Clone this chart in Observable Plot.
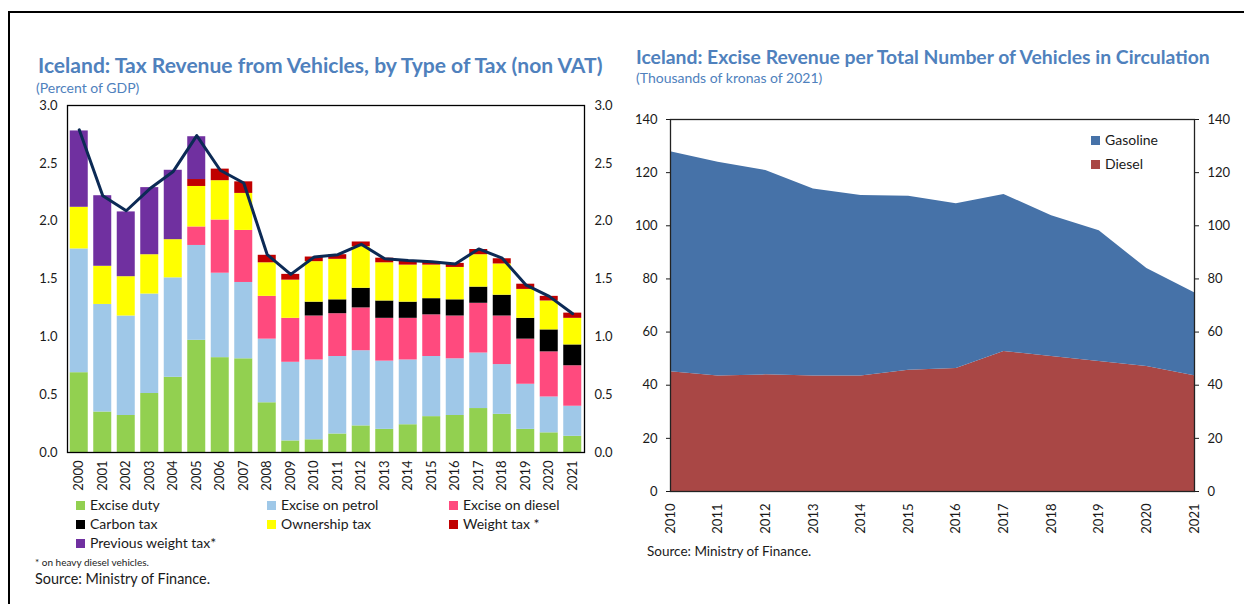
<!DOCTYPE html>
<html>
<head>
<meta charset="utf-8">
<script src="https://cdn.jsdelivr.net/npm/d3@7"></script>
<script src="https://cdn.jsdelivr.net/npm/@observablehq/plot@0.6"></script>
<style>
  html, body { margin: 0; padding: 0; background: #fff; }
  body { width: 1244px; height: 604px; position: relative; overflow: hidden; font-family: Lato, "Open Sans", sans-serif; color: #1a1a1a; }
  .abs { position: absolute; white-space: nowrap; }
  .title { font-weight: bold; color: #4f81bd; font-size: 18px; line-height: 1; transform: translateY(-50%); }
  .sub { color: #4f81bd; font-size: 14px; line-height: 1; transform: translateY(-50%); }
  .leg { font-size: 14px; line-height: 14px; }
  .sw { display: inline-block; width: 9px; height: 9px; margin-right: 5px; vertical-align: 0px; }
  #border { position: absolute; left: 8px; top: 11px; width: 1300px; height: 700px; border-top: 2px solid #000; border-left: 2px solid #000; }
</style>
</head>
<body>
<div id="border"></div>
<div id="t1" class="abs title" style="left:38px; top:65px;">Iceland: Tax Revenue from Vehicles, by Type of Tax (non VAT)</div>
<div class="abs sub" style="left:36px; top:88px;">(Percent of GDP)</div>
<div id="t2" class="abs title" style="left:636px; top:57px;">Iceland: Excise Revenue per Total Number of Vehicles in Circulation</div>
<div class="abs sub" style="left:636px; top:78px;">(Thousands of kronas of 2021)</div>
<div id="left" class="abs" style="left:0px; top:95px;"></div>
<div id="right" class="abs" style="left:620px; top:109px;"></div>
<div id="legend" class="abs" style="left:0; top:0;"></div>
<div class="abs" style="left:35px; top:556px; font-size:10px;">* on heavy diesel vehicles.</div>
<div class="abs" style="left:35px; top:570px; font-size:14.4px;">Source: Ministry of Finance.</div>
<div class="abs" style="left:647px; top:543px; font-size:13.5px;">Source: Ministry of Finance.</div>
<div class="abs leg" style="left:1091px; top:133px;"><span class="sw" style="background:#4672a8"></span>Gasoline</div>
<div class="abs leg" style="left:1091px; top:157px;"><span class="sw" style="background:#a94745"></span>Diesel</div>
<script>
// ---------- Left chart data (percent of GDP) ----------
const years = [2000,2001,2002,2003,2004,2005,2006,2007,2008,2009,2010,2011,2012,2013,2014,2015,2016,2017,2018,2019,2020,2021];
const seriesNames = ["Excise duty","Excise on petrol","Excise on diesel","Carbon tax","Ownership tax","Weight tax *","Previous weight tax*"];
const seriesColors = ["#92d050","#9fc8e8","#ff4a7e","#000000","#ffff00","#c00000","#7030a0"];
const exciseDuty    = [0.69,0.35,0.32,0.51,0.65,0.97,0.82,0.81,0.43,0.10,0.11,0.16,0.23,0.20,0.24,0.31,0.32,0.38,0.33,0.20,0.17,0.14];
const excisePetrol  = [1.07,0.93,0.86,0.86,0.86,0.82,0.73,0.66,0.55,0.68,0.69,0.67,0.65,0.59,0.56,0.52,0.49,0.48,0.43,0.39,0.31,0.26];
const exciseDiesel  = [0,0,0,0,0,0.16,0.46,0.45,0.37,0.38,0.38,0.37,0.37,0.37,0.36,0.36,0.37,0.43,0.42,0.39,0.39,0.35];
const carbonTax     = [0,0,0,0,0,0,0,0,0,0,0.12,0.12,0.17,0.15,0.14,0.14,0.14,0.14,0.18,0.18,0.19,0.18];
const ownershipTax  = [0.36,0.33,0.34,0.34,0.33,0.35,0.34,0.32,0.29,0.33,0.35,0.35,0.36,0.33,0.32,0.29,0.28,0.28,0.27,0.25,0.25,0.23];
const weightTax     = [0,0,0,0,0,0.06,0.10,0.10,0.065,0.05,0.04,0.04,0.04,0.04,0.035,0.03,0.035,0.045,0.045,0.045,0.04,0.045];
const prevWeightTax = [0.66,0.61,0.56,0.58,0.60,0.37,0,0,0,0,0,0,0,0,0,0,0,0,0,0,0,0];
const totalLine     = [2.79,2.22,2.09,2.28,2.43,2.74,2.44,2.33,1.71,1.54,1.69,1.71,1.80,1.675,1.66,1.65,1.63,1.76,1.68,1.45,1.35,1.20];
const leftTicks = [0,0.5,1.0,1.5,2.0,2.5,3.0];

// ---------- Right chart data (thousands of kronas of 2021) ----------
const years2 = [2010,2011,2012,2013,2014,2015,2016,2017,2018,2019,2020,2021];
const diesel   = [45.1,43.5,43.9,43.5,43.5,45.6,46.3,52.7,50.8,48.9,47.0,43.6];
const gasoline = [82.8,80.4,76.9,70.3,67.9,65.5,62.0,59.1,53.0,49.2,36.9,31.2];
const rightTicks = [0,20,40,60,80,100,120,140];

// fit titles to the reference widths
function fitWidth(id, target) {
  const el = document.getElementById(id);
  const w = el.getBoundingClientRect().width;
  const fs = parseFloat(getComputedStyle(el).fontSize);
  el.style.fontSize = (fs * target / w) + "px";
}
fitWidth("t1", 565);
fitWidth("t2", 574);

const allSeries = [exciseDuty, excisePetrol, exciseDiesel, carbonTax, ownershipTax, weightTax, prevWeightTax];
const barRows = [];
years.forEach((y, i) => {
  seriesNames.forEach((s, j) => barRows.push({year: String(y), series: s, value: allSeries[j][i]}));
});
const lineRows = years.map((y, i) => ({year: String(y), value: totalLine[i]}));

const left = Plot.plot({
  width: 620, height: 410,
  marginLeft: 67, marginRight: 36, marginTop: 10, marginBottom: 53,
  style: {fontFamily: "Lato, 'Open Sans', sans-serif", fontSize: "13px", color: "#1a1a1a", background: "transparent"},
  x: {domain: years.map(String), paddingInner: 0.234, paddingOuter: 0.117, round: false, tickRotate: -90, tickSize: 0, tickPadding: 8, label: null},
  y: {domain: [0, 3], ticks: leftTicks, tickFormat: d3.format(".1f"), tickSize: 0, tickPadding: 10, label: null, axis: "both"},
  color: {domain: seriesNames, range: seriesColors},
  marks: [
    Plot.barY(barRows, {x: "year", y: "value", fill: "series", order: seriesNames}),
    Plot.line(lineRows, {x: "year", y: "value", stroke: "#0c2a55", strokeWidth: 3}),
    Plot.frame({stroke: "#000", strokeWidth: 1.3})
  ]
});
document.getElementById("left").appendChild(left);

// legend for left chart
const legPos = [[76,498],[267,498],[449,498],[76,517],[267,517],[449,517],[76,536]];
const legDiv = document.getElementById("legend");
seriesNames.forEach((s, j) => {
  const d = document.createElement("div");
  d.className = "abs leg";
  d.style.left = legPos[j][0] + "px";
  d.style.top = legPos[j][1] + "px";
  d.innerHTML = `<span class="sw" style="background:${seriesColors[j]}"></span>${s}`;
  legDiv.appendChild(d);
});

const areaRows = [];
years2.forEach((y, i) => areaRows.push({year: y, type: "Diesel", value: diesel[i]}));
years2.forEach((y, i) => areaRows.push({year: y, type: "Gasoline", value: gasoline[i]}));

const right = Plot.plot({
  width: 624, height: 432,
  marginLeft: 50, marginRight: 50, marginTop: 10, marginBottom: 50,
  style: {fontFamily: "Lato, 'Open Sans', sans-serif", fontSize: "13px", color: "#1a1a1a", background: "transparent"},
  x: {domain: [2010, 2021], ticks: years2, tickFormat: d => String(d), tickRotate: -90, tickSize: -5, tickPadding: 17, label: null},
  y: {domain: [0, 140], ticks: rightTicks, tickSize: 4, tickPadding: 9, label: null, axis: "both"},
  color: {domain: ["Gasoline", "Diesel"], range: ["#4672a8", "#a94745"]},
  marks: [
    Plot.areaY(areaRows, {x: "year", y: "value", fill: "type", order: ["Diesel", "Gasoline"]}),
    Plot.frame({stroke: "#222", strokeWidth: 1.3})
  ]
});
document.getElementById("right").appendChild(right);
</script>
</body>
</html>
